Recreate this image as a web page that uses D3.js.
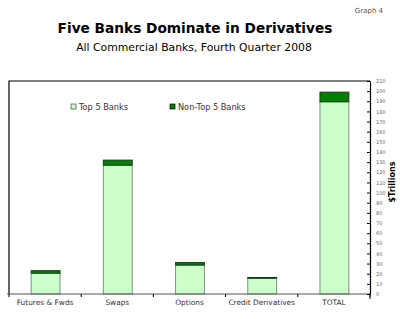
<!DOCTYPE html>
<html><head><meta charset="utf-8">
<script src="https://cdn.jsdelivr.net/npm/d3@7"></script>
<style>body{margin:0;background:#fff}svg{display:block}</style>
</head><body>
<svg id="c" width="400" height="319"></svg>
<script>
const categories = ["Futures & Fwds", "Swaps", "Options", "Credit Derivatives", "TOTAL"];
const top5 = [20.5, 127, 28.5, 15.5, 189.5];
const nonTop5 = [2.5, 5, 2.5, 0.8, 9.5];
const yTicks = d3.range(0, 211, 10);
const seriesNames = ["Top 5 Banks", "Non-Top 5 Banks"];
const colors = ["#ccffcc", "#008000"];

const svg = d3.select("#c");
const font = "Verdana, 'DejaVu Sans', sans-serif";
const L = 9, R = 370, T = 81, B = 294;

function fitText(sel, target) {
  const w = sel.node().getComputedTextLength();
  const fs = parseFloat(sel.attr("font-size"));
  sel.attr("font-size", fs * target / w);
}

svg.append("text").attr("x", 383).attr("y", 13).attr("text-anchor", "end")
  .attr("font-family", font).attr("font-size", 7).attr("fill", "#555").text("Graph 4");

const t1 = svg.append("text").attr("x", 195).attr("y", 33).attr("text-anchor", "middle")
  .attr("font-family", font).attr("font-weight", "bold").attr("font-size", 16).attr("fill", "#000")
  .text("Five Banks Dominate in Derivatives");
fitText(t1, 275);
const t2 = svg.append("text").attr("x", 194).attr("y", 51).attr("text-anchor", "middle")
  .attr("font-family", font).attr("font-size", 12).attr("fill", "#000")
  .text("All Commercial Banks, Fourth Quarter 2008");
fitText(t2, 236);

const x = d3.scaleBand().domain(categories).range([L, R]).paddingInner(0.6).paddingOuter(0.3);
const y = d3.scaleLinear().domain([0, 210]).range([B, T]);

// frame
svg.append("path").attr("d", `M${L},${B}V${T}H${R}`).attr("fill", "none").attr("stroke", "#000").attr("stroke-width", 1.2);

const stackData = categories.map((c, i) => ({cat: c, a: top5[i], b: nonTop5[i]}));
const stack = d3.stack().keys(["a", "b"])(stackData);

stack.forEach((s, si) => {
  svg.append("g").selectAll("rect").data(s).join("rect")
    .attr("x", d => x(d.data.cat) + 0.5)
    .attr("width", x.bandwidth())
    .attr("y", d => y(d[1]))
    .attr("height", d => y(d[0]) - y(d[1]))
    .attr("fill", colors[si])
    .attr("stroke", si === 0 ? "#8a8a8a" : "#1a3a1a")
    .attr("stroke-width", 1);
});

// bottom axis
const xb = d3.scaleLinear().domain([0, 5]).range([L, R]);
svg.append("line").attr("x1", L - 2).attr("x2", R).attr("y1", B).attr("y2", B).attr("stroke", "#555").attr("stroke-width", 1);
svg.append("g").selectAll("line").data(d3.range(0, 6)).join("line")
  .attr("x1", d => xb(d)).attr("x2", d => xb(d)).attr("y1", B).attr("y2", B + 3)
  .attr("stroke", "#000");
svg.append("g").selectAll("text").data(categories).join("text")
  .attr("x", d => x(d) + x.bandwidth() / 2).attr("y", 305).attr("text-anchor", "middle")
  .attr("font-family", font).attr("font-size", 7.4).attr("fill", "#333").text(d => d);

// right axis
const ax = svg.append("g").attr("transform", `translate(${R},0)`)
  .call(d3.axisRight(y).tickValues(yTicks).tickSize(0).tickPadding(6).tickFormat(d3.format("d")));
ax.select(".domain").attr("stroke", "#000").attr("stroke-width", 1.2);
ax.selectAll(".tick text").attr("font-family", font).attr("font-size", 5).attr("fill", "#666");
ax.selectAll(".tick").append("line").attr("x1", -3).attr("x2", 0).attr("stroke", "#000");
svg.append("line").attr("x1", R).attr("x2", R).attr("y1", B).attr("y2", B + 5).attr("stroke", "#000");

svg.append("text").attr("transform", "translate(395,182) rotate(-90)").attr("text-anchor", "middle")
  .attr("font-family", font).attr("font-weight", "bold").attr("font-size", 8).attr("fill", "#000").text("$Trillions");

// legend
const legX = [71, 170];
seriesNames.forEach((n, i) => {
  svg.append("rect").attr("x", legX[i]).attr("y", 104).attr("width", 5).attr("height", 5)
    .attr("fill", colors[i]).attr("stroke", i === 0 ? "#444" : "#000").attr("stroke-width", 0.7);
  svg.append("text").attr("x", legX[i] + 8).attr("y", 109.5).attr("font-family", font)
    .attr("font-size", 8.2).attr("fill", "#333").text(n);
});
</script>
</body></html>
